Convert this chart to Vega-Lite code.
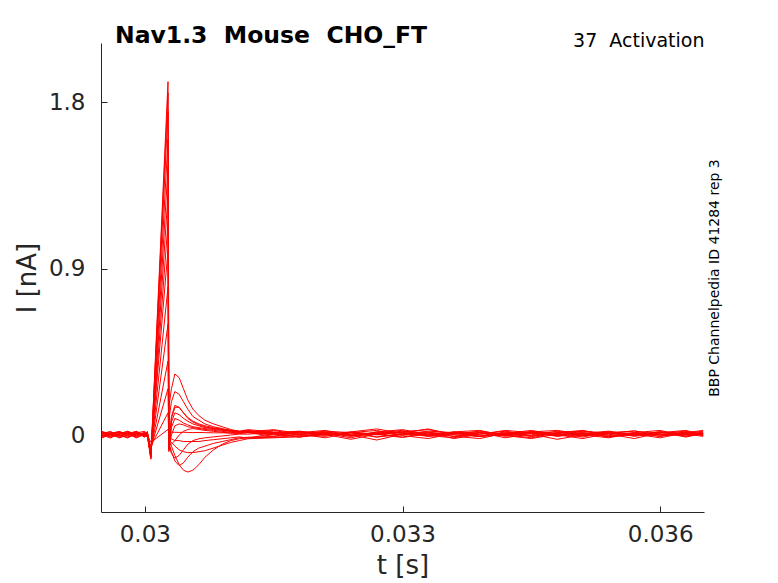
{
  "$schema": "https://vega.github.io/schema/vega-lite/v6.json",
  "width": 603,
  "height": 469,
  "autosize": {"type": "none"},
  "padding": {"left": 101, "top": 43, "right": 74, "bottom": 71},
  "background": "white",
  "title": {
    "text": "Nav1.3 \u00a0Mouse \u00a0CHO_FT",
    "anchor": "start",
    "frame": "group",
    "dx": 14,
    "offset": -16,
    "font": "DejaVu Sans",
    "fontSize": 23.5,
    "fontWeight": "bold",
    "color": "#000000"
  },
  "data": {
    "values": [
      {"k":1,"t":0.0295,"I":0.008},{"k":1,"t":0.0296,"I":-0.012},{"k":1,"t":0.0297,"I":0.004},{"k":1,"t":0.0298,"I":0.016},{"k":1,"t":0.0299,"I":-0.004},{"k":1,"t":0.03,"I":0.008},{"k":1,"t":0.03003,"I":0.0},
      {"k":1,"t":0.03007,"I":-0.04},{"k":1,"t":0.03027,"I":0.03},{"k":1,"t":0.03028,"I":0.015},
      {"k":1,"t":0.03031,"I":0.015},{"k":1,"t":0.03035,"I":0.015},{"k":1,"t":0.0304,"I":0.014},{"k":1,"t":0.03045,"I":0.015},{"k":1,"t":0.0305,"I":0.014},{"k":1,"t":0.03056,"I":0.013},{"k":1,"t":0.03063,"I":0.014},{"k":1,"t":0.0307,"I":0.013},{"k":1,"t":0.0308,"I":0.012},{"k":1,"t":0.0309,"I":0.012},{"k":1,"t":0.031,"I":0.011},{"k":1,"t":0.0311,"I":0.01},
      {"k":1,"t":0.0312,"I":0.013},{"k":1,"t":0.0315,"I":-0.007},{"k":1,"t":0.0318,"I":0.017},{"k":1,"t":0.0321,"I":0.003},{"k":1,"t":0.0324,"I":-0.023},{"k":1,"t":0.0327,"I":0.005},{"k":1,"t":0.033,"I":0.021},{"k":1,"t":0.0333,"I":-0.003},{"k":1,"t":0.0336,"I":-0.015},{"k":1,"t":0.0339,"I":0.013},{"k":1,"t":0.0342,"I":-0.007},{"k":1,"t":0.0345,"I":0.017},{"k":1,"t":0.0348,"I":0.001},{"k":1,"t":0.0351,"I":-0.019},{"k":1,"t":0.0354,"I":0.009},{"k":1,"t":0.0357,"I":0.023},{"k":1,"t":0.036,"I":-0.001},{"k":1,"t":0.0363,"I":0.005},{"k":1,"t":0.0365,"I":-0.007},

      {"k":2,"t":0.0295,"I":-0.008},{"k":2,"t":0.0296,"I":0.012},{"k":2,"t":0.0297,"I":0.0},{"k":2,"t":0.0298,"I":-0.016},{"k":2,"t":0.0299,"I":0.008},{"k":2,"t":0.03,"I":0.0},{"k":2,"t":0.03003,"I":-0.012},
      {"k":2,"t":0.03007,"I":-0.06},{"k":2,"t":0.03027,"I":0.12},{"k":2,"t":0.03028,"I":-0.02},
      {"k":2,"t":0.03031,"I":-0.02},{"k":2,"t":0.03035,"I":-0.03},{"k":2,"t":0.0304,"I":-0.03},{"k":2,"t":0.03045,"I":-0.035},{"k":2,"t":0.0305,"I":-0.035},{"k":2,"t":0.03056,"I":-0.035},{"k":2,"t":0.03063,"I":-0.035},{"k":2,"t":0.0307,"I":-0.03},{"k":2,"t":0.0308,"I":-0.025},{"k":2,"t":0.0309,"I":-0.02},{"k":2,"t":0.031,"I":-0.015},{"k":2,"t":0.0311,"I":-0.01},
      {"k":2,"t":0.0312,"I":-0.017},{"k":2,"t":0.0315,"I":0.009},{"k":2,"t":0.0318,"I":-0.011},{"k":2,"t":0.0321,"I":0.013},{"k":2,"t":0.0324,"I":0.001},{"k":2,"t":0.0327,"I":-0.027},{"k":2,"t":0.033,"I":0.005},{"k":2,"t":0.0333,"I":0.017},{"k":2,"t":0.0336,"I":-0.007},{"k":2,"t":0.0339,"I":-0.019},{"k":2,"t":0.0342,"I":0.011},{"k":2,"t":0.0345,"I":-0.003},{"k":2,"t":0.0348,"I":0.021},{"k":2,"t":0.0351,"I":0.001},{"k":2,"t":0.0354,"I":-0.015},{"k":2,"t":0.0357,"I":0.013},{"k":2,"t":0.036,"I":-0.007},{"k":2,"t":0.0363,"I":0.015},{"k":2,"t":0.0365,"I":0.005},

      {"k":3,"t":0.0295,"I":0.016},{"k":3,"t":0.0296,"I":0.0},{"k":3,"t":0.0297,"I":-0.012},{"k":3,"t":0.0298,"I":0.008},{"k":3,"t":0.0299,"I":0.02},{"k":3,"t":0.03,"I":-0.004},{"k":3,"t":0.03003,"I":0.008},
      {"k":3,"t":0.03007,"I":-0.07},{"k":3,"t":0.03027,"I":0.25},{"k":3,"t":0.03028,"I":-0.03},
      {"k":3,"t":0.03031,"I":-0.04},{"k":3,"t":0.03035,"I":-0.06},{"k":3,"t":0.0304,"I":-0.08},{"k":3,"t":0.03045,"I":-0.09},{"k":3,"t":0.0305,"I":-0.095},{"k":3,"t":0.03056,"I":-0.095},{"k":3,"t":0.03063,"I":-0.09},{"k":3,"t":0.0307,"I":-0.085},{"k":3,"t":0.0308,"I":-0.07},{"k":3,"t":0.0309,"I":-0.055},{"k":3,"t":0.031,"I":-0.04},{"k":3,"t":0.0311,"I":-0.03},
      {"k":3,"t":0.0312,"I":-0.02},{"k":3,"t":0.0315,"I":-0.015},{"k":3,"t":0.0318,"I":-0.01},{"k":3,"t":0.0321,"I":0.001},{"k":3,"t":0.0324,"I":0.013},{"k":3,"t":0.0327,"I":-0.011},{"k":3,"t":0.033,"I":0.009},{"k":3,"t":0.0333,"I":-0.007},{"k":3,"t":0.0336,"I":0.017},{"k":3,"t":0.0339,"I":0.025},{"k":3,"t":0.0342,"I":-0.003},{"k":3,"t":0.0345,"I":-0.019},{"k":3,"t":0.0348,"I":0.005},{"k":3,"t":0.0351,"I":0.013},{"k":3,"t":0.0354,"I":-0.007},{"k":3,"t":0.0357,"I":0.001},{"k":3,"t":0.036,"I":0.017},{"k":3,"t":0.0363,"I":-0.011},{"k":3,"t":0.0365,"I":0.009},

      {"k":4,"t":0.0295,"I":-0.016},{"k":4,"t":0.0296,"I":0.004},{"k":4,"t":0.0297,"I":0.016},{"k":4,"t":0.0298,"I":-0.008},{"k":4,"t":0.0299,"I":0.0},{"k":4,"t":0.03,"I":0.012},{"k":4,"t":0.03003,"I":-0.004},
      {"k":4,"t":0.03007,"I":-0.08},{"k":4,"t":0.03027,"I":0.4},{"k":4,"t":0.03028,"I":-0.03},
      {"k":4,"t":0.03031,"I":-0.06},{"k":4,"t":0.03035,"I":-0.11},{"k":4,"t":0.0304,"I":-0.16},{"k":4,"t":0.03045,"I":-0.19},{"k":4,"t":0.0305,"I":-0.2},{"k":4,"t":0.03056,"I":-0.19},{"k":4,"t":0.03063,"I":-0.16},{"k":4,"t":0.0307,"I":-0.12},{"k":4,"t":0.0308,"I":-0.08},{"k":4,"t":0.0309,"I":-0.05},{"k":4,"t":0.031,"I":-0.03},{"k":4,"t":0.0311,"I":-0.02},
      {"k":4,"t":0.0312,"I":-0.015},{"k":4,"t":0.0315,"I":-0.012},{"k":4,"t":0.0318,"I":-0.003},{"k":4,"t":0.0321,"I":0.009},{"k":4,"t":0.0324,"I":-0.015},{"k":4,"t":0.0327,"I":0.017},{"k":4,"t":0.033,"I":0.001},{"k":4,"t":0.0333,"I":0.013},{"k":4,"t":0.0336,"I":-0.019},{"k":4,"t":0.0339,"I":0.005},{"k":4,"t":0.0342,"I":0.021},{"k":4,"t":0.0345,"I":-0.007},{"k":4,"t":0.0348,"I":0.009},{"k":4,"t":0.0351,"I":-0.011},{"k":4,"t":0.0354,"I":0.017},{"k":4,"t":0.0357,"I":0.005},{"k":4,"t":0.036,"I":-0.015},{"k":4,"t":0.0363,"I":0.013},{"k":4,"t":0.0365,"I":0.001},

      {"k":5,"t":0.0295,"I":0.004},{"k":5,"t":0.0296,"I":0.02},{"k":5,"t":0.0297,"I":-0.008},{"k":5,"t":0.0298,"I":0.012},{"k":5,"t":0.0299,"I":-0.012},{"k":5,"t":0.03,"I":0.004},{"k":5,"t":0.03003,"I":0.016},
      {"k":5,"t":0.03007,"I":-0.09},{"k":5,"t":0.03027,"I":0.6},{"k":5,"t":0.03028,"I":-0.04},
      {"k":5,"t":0.03031,"I":-0.09},{"k":5,"t":0.03035,"I":-0.14},{"k":5,"t":0.0304,"I":-0.165},{"k":5,"t":0.03045,"I":-0.15},{"k":5,"t":0.0305,"I":-0.12},{"k":5,"t":0.03056,"I":-0.09},{"k":5,"t":0.03063,"I":-0.07},{"k":5,"t":0.0307,"I":-0.06},{"k":5,"t":0.0308,"I":-0.045},{"k":5,"t":0.0309,"I":-0.035},{"k":5,"t":0.031,"I":-0.025},{"k":5,"t":0.0311,"I":-0.015},
      {"k":5,"t":0.0312,"I":-0.012},{"k":5,"t":0.0315,"I":-0.007},{"k":5,"t":0.0318,"I":0.005},{"k":5,"t":0.0321,"I":-0.015},{"k":5,"t":0.0324,"I":0.013},{"k":5,"t":0.0327,"I":0.025},{"k":5,"t":0.033,"I":-0.003},{"k":5,"t":0.0333,"I":-0.019},{"k":5,"t":0.0336,"I":0.009},{"k":5,"t":0.0339,"I":-0.007},{"k":5,"t":0.0342,"I":0.013},{"k":5,"t":0.0345,"I":0.005},{"k":5,"t":0.0348,"I":-0.023},{"k":5,"t":0.0351,"I":0.001},{"k":5,"t":0.0354,"I":0.017},{"k":5,"t":0.0357,"I":-0.007},{"k":5,"t":0.036,"I":0.009},{"k":5,"t":0.0363,"I":0.021},{"k":5,"t":0.0365,"I":-0.003},

      {"k":6,"t":0.0295,"I":0.012},{"k":6,"t":0.0296,"I":-0.008},{"k":6,"t":0.0297,"I":0.008},{"k":6,"t":0.0298,"I":0.0},{"k":6,"t":0.0299,"I":0.016},{"k":6,"t":0.03,"I":-0.012},{"k":6,"t":0.03003,"I":0.004},
      {"k":6,"t":0.03007,"I":-0.1},{"k":6,"t":0.03027,"I":0.8},{"k":6,"t":0.03028,"I":-0.05},
      {"k":6,"t":0.03031,"I":-0.1},{"k":6,"t":0.03035,"I":-0.125},{"k":6,"t":0.0304,"I":-0.11},{"k":6,"t":0.03045,"I":-0.08},{"k":6,"t":0.0305,"I":-0.05},{"k":6,"t":0.03056,"I":-0.03},{"k":6,"t":0.03063,"I":-0.02},{"k":6,"t":0.0307,"I":-0.015},{"k":6,"t":0.0308,"I":-0.01},{"k":6,"t":0.0309,"I":-0.005},{"k":6,"t":0.031,"I":0.0},{"k":6,"t":0.0311,"I":0.005},
      {"k":6,"t":0.0312,"I":0.005},{"k":6,"t":0.0315,"I":0.013},{"k":6,"t":0.0318,"I":-0.011},{"k":6,"t":0.0321,"I":0.009},{"k":6,"t":0.0324,"I":-0.007},{"k":6,"t":0.0327,"I":0.017},{"k":6,"t":0.033,"I":0.029},{"k":6,"t":0.0333,"I":0.005},{"k":6,"t":0.0336,"I":-0.007},{"k":6,"t":0.0339,"I":0.013},{"k":6,"t":0.0342,"I":-0.015},{"k":6,"t":0.0345,"I":0.009},{"k":6,"t":0.0348,"I":0.017},{"k":6,"t":0.0351,"I":-0.003},{"k":6,"t":0.0354,"I":0.005},{"k":6,"t":0.0357,"I":-0.019},{"k":6,"t":0.036,"I":0.013},{"k":6,"t":0.0363,"I":0.001},{"k":6,"t":0.0365,"I":0.017},

      {"k":7,"t":0.0295,"I":-0.004},{"k":7,"t":0.0296,"I":0.008},{"k":7,"t":0.0297,"I":0.02},{"k":7,"t":0.0298,"I":0.004},{"k":7,"t":0.0299,"I":-0.008},{"k":7,"t":0.03,"I":0.016},{"k":7,"t":0.03003,"I":0.0},
      {"k":7,"t":0.03007,"I":-0.1},{"k":7,"t":0.03027,"I":1.0},{"k":7,"t":0.03028,"I":-0.06},
      {"k":7,"t":0.03031,"I":-0.05},{"k":7,"t":0.03035,"I":-0.03},{"k":7,"t":0.0304,"I":0.0},{"k":7,"t":0.03045,"I":0.02},{"k":7,"t":0.0305,"I":0.03},{"k":7,"t":0.03056,"I":0.035},{"k":7,"t":0.03063,"I":0.03},{"k":7,"t":0.0307,"I":0.025},{"k":7,"t":0.0308,"I":0.02},{"k":7,"t":0.0309,"I":0.015},{"k":7,"t":0.031,"I":0.01},{"k":7,"t":0.0311,"I":0.01},
      {"k":7,"t":0.0312,"I":0.017},{"k":7,"t":0.0315,"I":0.001},{"k":7,"t":0.0318,"I":0.013},{"k":7,"t":0.0321,"I":0.025},{"k":7,"t":0.0324,"I":-0.003},{"k":7,"t":0.0327,"I":0.009},{"k":7,"t":0.033,"I":-0.011},{"k":7,"t":0.0333,"I":0.013},{"k":7,"t":0.0336,"I":0.005},{"k":7,"t":0.0339,"I":0.021},{"k":7,"t":0.0342,"I":0.001},{"k":7,"t":0.0345,"I":-0.015},{"k":7,"t":0.0348,"I":0.013},{"k":7,"t":0.0351,"I":0.025},{"k":7,"t":0.0354,"I":-0.003},{"k":7,"t":0.0357,"I":0.009},{"k":7,"t":0.036,"I":-0.007},{"k":7,"t":0.0363,"I":0.017},{"k":7,"t":0.0365,"I":0.005},

      {"k":8,"t":0.0295,"I":0.02},{"k":8,"t":0.0296,"I":0.004},{"k":8,"t":0.0297,"I":-0.004},{"k":8,"t":0.0298,"I":0.012},{"k":8,"t":0.0299,"I":0.008},{"k":8,"t":0.03,"I":-0.008},{"k":8,"t":0.03003,"I":0.012},
      {"k":8,"t":0.03007,"I":-0.11},{"k":8,"t":0.03027,"I":1.15},{"k":8,"t":0.03028,"I":-0.07},
      {"k":8,"t":0.03031,"I":0.0},{"k":8,"t":0.03035,"I":0.05},{"k":8,"t":0.0304,"I":0.06},{"k":8,"t":0.03045,"I":0.055},{"k":8,"t":0.0305,"I":0.045},{"k":8,"t":0.03056,"I":0.04},{"k":8,"t":0.03063,"I":0.035},{"k":8,"t":0.0307,"I":0.03},{"k":8,"t":0.0308,"I":0.025},{"k":8,"t":0.0309,"I":0.02},{"k":8,"t":0.031,"I":0.015},{"k":8,"t":0.0311,"I":0.01},
      {"k":8,"t":0.0312,"I":0.013},{"k":8,"t":0.0315,"I":0.025},{"k":8,"t":0.0318,"I":0.001},{"k":8,"t":0.0321,"I":-0.007},{"k":8,"t":0.0324,"I":0.017},{"k":8,"t":0.0327,"I":0.005},{"k":8,"t":0.033,"I":0.013},{"k":8,"t":0.0333,"I":0.033},{"k":8,"t":0.0336,"I":0.001},{"k":8,"t":0.0339,"I":-0.007},{"k":8,"t":0.0342,"I":0.017},{"k":8,"t":0.0345,"I":0.009},{"k":8,"t":0.0348,"I":-0.003},{"k":8,"t":0.0351,"I":0.021},{"k":8,"t":0.0354,"I":0.005},{"k":8,"t":0.0357,"I":0.013},{"k":8,"t":0.036,"I":0.025},{"k":8,"t":0.0363,"I":-0.007},{"k":8,"t":0.0365,"I":0.009},

      {"k":9,"t":0.0295,"I":0.0},{"k":9,"t":0.0296,"I":-0.016},{"k":9,"t":0.0297,"I":0.008},{"k":9,"t":0.0298,"I":0.02},{"k":9,"t":0.0299,"I":0.0},{"k":9,"t":0.03,"I":0.008},{"k":9,"t":0.03003,"I":-0.008},
      {"k":9,"t":0.03007,"I":-0.11},{"k":9,"t":0.03027,"I":1.3},{"k":9,"t":0.03028,"I":-0.08},
      {"k":9,"t":0.03031,"I":0.04},{"k":9,"t":0.03035,"I":0.09},{"k":9,"t":0.0304,"I":0.08},{"k":9,"t":0.03045,"I":0.065},{"k":9,"t":0.0305,"I":0.055},{"k":9,"t":0.03056,"I":0.045},{"k":9,"t":0.03063,"I":0.04},{"k":9,"t":0.0307,"I":0.035},{"k":9,"t":0.0308,"I":0.03},{"k":9,"t":0.0309,"I":0.025},{"k":9,"t":0.031,"I":0.02},{"k":9,"t":0.0311,"I":0.015},
      {"k":9,"t":0.0312,"I":0.021},{"k":9,"t":0.0315,"I":0.005},{"k":9,"t":0.0318,"I":0.017},{"k":9,"t":0.0321,"I":0.001},{"k":9,"t":0.0324,"I":0.013},{"k":9,"t":0.0327,"I":-0.011},{"k":9,"t":0.033,"I":0.005},{"k":9,"t":0.0333,"I":0.021},{"k":9,"t":0.0336,"I":0.013},{"k":9,"t":0.0339,"I":-0.007},{"k":9,"t":0.0342,"I":0.009},{"k":9,"t":0.0345,"I":0.025},{"k":9,"t":0.0348,"I":0.001},{"k":9,"t":0.0351,"I":0.013},{"k":9,"t":0.0354,"I":-0.011},{"k":9,"t":0.0357,"I":0.005},{"k":9,"t":0.036,"I":0.017},{"k":9,"t":0.0363,"I":0.009},{"k":9,"t":0.0365,"I":0.021},

      {"k":10,"t":0.0295,"I":0.012},{"k":10,"t":0.0296,"I":0.016},{"k":10,"t":0.0297,"I":0.0},{"k":10,"t":0.0298,"I":-0.012},{"k":10,"t":0.0299,"I":0.012},{"k":10,"t":0.03,"I":0.02},{"k":10,"t":0.03003,"I":0.004},
      {"k":10,"t":0.03007,"I":-0.12},{"k":10,"t":0.03027,"I":1.45},{"k":10,"t":0.03028,"I":-0.09},
      {"k":10,"t":0.03031,"I":0.07},{"k":10,"t":0.03035,"I":0.12},{"k":10,"t":0.0304,"I":0.11},{"k":10,"t":0.03045,"I":0.09},{"k":10,"t":0.0305,"I":0.075},{"k":10,"t":0.03056,"I":0.06},{"k":10,"t":0.03063,"I":0.05},{"k":10,"t":0.0307,"I":0.04},{"k":10,"t":0.0308,"I":0.035},{"k":10,"t":0.0309,"I":0.03},{"k":10,"t":0.031,"I":0.02},{"k":10,"t":0.0311,"I":0.015},
      {"k":10,"t":0.0312,"I":0.017},{"k":10,"t":0.0315,"I":0.029},{"k":10,"t":0.0318,"I":0.009},{"k":10,"t":0.0321,"I":0.017},{"k":10,"t":0.0324,"I":0.001},{"k":10,"t":0.0327,"I":0.013},{"k":10,"t":0.033,"I":0.025},{"k":10,"t":0.0333,"I":-0.007},{"k":10,"t":0.0336,"I":0.009},{"k":10,"t":0.0339,"I":0.017},{"k":10,"t":0.0342,"I":0.005},{"k":10,"t":0.0345,"I":-0.007},{"k":10,"t":0.0348,"I":0.013},{"k":10,"t":0.0351,"I":0.021},{"k":10,"t":0.0354,"I":0.009},{"k":10,"t":0.0357,"I":-0.003},{"k":10,"t":0.036,"I":0.013},{"k":10,"t":0.0363,"I":0.025},{"k":10,"t":0.0365,"I":0.001},

      {"k":11,"t":0.0295,"I":-0.012},{"k":11,"t":0.0296,"I":0.0},{"k":11,"t":0.0297,"I":0.012},{"k":11,"t":0.0298,"I":0.008},{"k":11,"t":0.0299,"I":-0.016},{"k":11,"t":0.03,"I":0.004},{"k":11,"t":0.03003,"I":0.012},
      {"k":11,"t":0.03007,"I":-0.12},{"k":11,"t":0.03027,"I":1.6},{"k":11,"t":0.03028,"I":-0.08},
      {"k":11,"t":0.03031,"I":0.09},{"k":11,"t":0.03035,"I":0.15},{"k":11,"t":0.0304,"I":0.15},{"k":11,"t":0.03045,"I":0.12},{"k":11,"t":0.0305,"I":0.09},{"k":11,"t":0.03056,"I":0.07},{"k":11,"t":0.03063,"I":0.055},{"k":11,"t":0.0307,"I":0.045},{"k":11,"t":0.0308,"I":0.035},{"k":11,"t":0.0309,"I":0.03},{"k":11,"t":0.031,"I":0.025},{"k":11,"t":0.0311,"I":0.02},
      {"k":11,"t":0.0312,"I":0.025},{"k":11,"t":0.0315,"I":0.013},{"k":11,"t":0.0318,"I":0.021},{"k":11,"t":0.0321,"I":0.005},{"k":11,"t":0.0324,"I":0.017},{"k":11,"t":0.0327,"I":0.033},{"k":11,"t":0.033,"I":0.009},{"k":11,"t":0.0333,"I":0.001},{"k":11,"t":0.0336,"I":0.017},{"k":11,"t":0.0339,"I":0.005},{"k":11,"t":0.0342,"I":0.025},{"k":11,"t":0.0345,"I":0.013},{"k":11,"t":0.0348,"I":-0.007},{"k":11,"t":0.0351,"I":0.009},{"k":11,"t":0.0354,"I":0.021},{"k":11,"t":0.0357,"I":0.001},{"k":11,"t":0.036,"I":0.017},{"k":11,"t":0.0363,"I":0.005},{"k":11,"t":0.0365,"I":0.013},

      {"k":12,"t":0.0295,"I":0.004},{"k":12,"t":0.0296,"I":0.012},{"k":12,"t":0.0297,"I":-0.016},{"k":12,"t":0.0298,"I":0.0},{"k":12,"t":0.0299,"I":0.012},{"k":12,"t":0.03,"I":-0.004},{"k":12,"t":0.03003,"I":0.02},
      {"k":12,"t":0.03007,"I":-0.12},{"k":12,"t":0.03027,"I":1.75},{"k":12,"t":0.03028,"I":-0.05},
      {"k":12,"t":0.03031,"I":0.1},{"k":12,"t":0.03035,"I":0.16},{"k":12,"t":0.0304,"I":0.15},{"k":12,"t":0.03045,"I":0.12},{"k":12,"t":0.0305,"I":0.095},{"k":12,"t":0.03056,"I":0.075},{"k":12,"t":0.03063,"I":0.06},{"k":12,"t":0.0307,"I":0.05},{"k":12,"t":0.0308,"I":0.04},{"k":12,"t":0.0309,"I":0.03},{"k":12,"t":0.031,"I":0.025},{"k":12,"t":0.0311,"I":0.02},
      {"k":12,"t":0.0312,"I":0.029},{"k":12,"t":0.0315,"I":0.017},{"k":12,"t":0.0318,"I":0.005},{"k":12,"t":0.0321,"I":0.021},{"k":12,"t":0.0324,"I":0.013},{"k":12,"t":0.0327,"I":0.001},{"k":12,"t":0.033,"I":0.017},{"k":12,"t":0.0333,"I":0.029},{"k":12,"t":0.0336,"I":0.005},{"k":12,"t":0.0339,"I":0.013},{"k":12,"t":0.0342,"I":-0.003},{"k":12,"t":0.0345,"I":0.017},{"k":12,"t":0.0348,"I":0.025},{"k":12,"t":0.0351,"I":0.005},{"k":12,"t":0.0354,"I":0.013},{"k":12,"t":0.0357,"I":0.021},{"k":12,"t":0.036,"I":0.001},{"k":12,"t":0.0363,"I":0.013},{"k":12,"t":0.0365,"I":0.025},

      {"k":13,"t":0.0295,"I":0.016},{"k":13,"t":0.0296,"I":-0.004},{"k":13,"t":0.0297,"I":0.004},{"k":13,"t":0.0298,"I":0.02},{"k":13,"t":0.0299,"I":0.004},{"k":13,"t":0.03,"I":0.012},{"k":13,"t":0.03003,"I":-0.004},
      {"k":13,"t":0.03007,"I":-0.13},{"k":13,"t":0.03027,"I":1.85},{"k":13,"t":0.03028,"I":0.08},
      {"k":13,"t":0.03031,"I":0.18},{"k":13,"t":0.03035,"I":0.235},{"k":13,"t":0.0304,"I":0.22},{"k":13,"t":0.03045,"I":0.18},{"k":13,"t":0.0305,"I":0.14},{"k":13,"t":0.03056,"I":0.1},{"k":13,"t":0.03063,"I":0.08},{"k":13,"t":0.0307,"I":0.06},{"k":13,"t":0.0308,"I":0.045},{"k":13,"t":0.0309,"I":0.035},{"k":13,"t":0.031,"I":0.025},{"k":13,"t":0.0311,"I":0.02},
      {"k":13,"t":0.0312,"I":0.015},{"k":13,"t":0.0315,"I":0.007},{"k":13,"t":0.0318,"I":0.019},{"k":13,"t":0.0321,"I":-0.001},{"k":13,"t":0.0324,"I":0.011},{"k":13,"t":0.0327,"I":0.003},{"k":13,"t":0.033,"I":-0.013},{"k":13,"t":0.0333,"I":0.007},{"k":13,"t":0.0336,"I":0.015},{"k":13,"t":0.0339,"I":-0.001},{"k":13,"t":0.0342,"I":0.007},{"k":13,"t":0.0345,"I":0.019},{"k":13,"t":0.0348,"I":-0.005},{"k":13,"t":0.0351,"I":0.007},{"k":13,"t":0.0354,"I":-0.009},{"k":13,"t":0.0357,"I":0.011},{"k":13,"t":0.036,"I":0.003},{"k":13,"t":0.0363,"I":-0.005},{"k":13,"t":0.0365,"I":0.007},

      {"k":14,"t":0.0295,"I":-0.008},{"k":14,"t":0.0296,"I":0.008},{"k":14,"t":0.0297,"I":0.016},{"k":14,"t":0.0298,"I":-0.004},{"k":14,"t":0.0299,"I":0.02},{"k":14,"t":0.03,"I":0.0},{"k":14,"t":0.03003,"I":0.008},
      {"k":14,"t":0.03007,"I":-0.13},{"k":14,"t":0.03027,"I":1.91},{"k":14,"t":0.03028,"I":0.15},
      {"k":14,"t":0.03031,"I":0.25},{"k":14,"t":0.03035,"I":0.33},{"k":14,"t":0.0304,"I":0.31},{"k":14,"t":0.03045,"I":0.25},{"k":14,"t":0.0305,"I":0.19},{"k":14,"t":0.03056,"I":0.14},{"k":14,"t":0.03063,"I":0.105},{"k":14,"t":0.0307,"I":0.08},{"k":14,"t":0.0308,"I":0.06},{"k":14,"t":0.0309,"I":0.045},{"k":14,"t":0.031,"I":0.03},{"k":14,"t":0.0311,"I":0.02},
      {"k":14,"t":0.0312,"I":0.019},{"k":14,"t":0.0315,"I":0.011},{"k":14,"t":0.0318,"I":0.003},{"k":14,"t":0.0321,"I":0.015},{"k":14,"t":0.0324,"I":-0.005},{"k":14,"t":0.0327,"I":0.007},{"k":14,"t":0.033,"I":0.015},{"k":14,"t":0.0333,"I":-0.001},{"k":14,"t":0.0336,"I":0.011},{"k":14,"t":0.0339,"I":-0.009},{"k":14,"t":0.0342,"I":0.003},{"k":14,"t":0.0345,"I":0.015},{"k":14,"t":0.0348,"I":0.007},{"k":14,"t":0.0351,"I":-0.005},{"k":14,"t":0.0354,"I":0.011},{"k":14,"t":0.0357,"I":-0.001},{"k":14,"t":0.036,"I":0.015},{"k":14,"t":0.0363,"I":0.007},{"k":14,"t":0.0365,"I":-0.001}
    ]
  },
  "layer": [
    {
      "mark": {"type": "line", "color": "#ff0000", "strokeWidth": 1, "clip": true},
      "encoding": {
        "x": {
          "field": "t",
          "type": "quantitative",
          "scale": {"domain": [0.02949, 0.03651], "nice": false, "zero": false},
          "axis": {"title": "t [s]", "values": [0.03, 0.033, 0.036], "format": ".2~g", "labelPadding": 17, "titlePadding": 6}
        },
        "y": {
          "field": "I",
          "type": "quantitative",
          "scale": {"domain": [-0.416, 2.119], "nice": false, "zero": false},
          "axis": {"title": "I [nA]", "values": [0, 0.9, 1.8], "format": ".2~g", "labelPadding": 22, "titlePadding": 8}
        },
        "detail": {"field": "k", "type": "nominal"}
      }
    },
    {
      "mark": {"type": "line", "opacity": 0},
      "encoding": {
        "x": {
          "field": "t",
          "type": "quantitative",
          "scale": {"domain": [0.02949, 0.03651], "nice": false, "zero": false},
          "axis": {"orient": "top", "title": "37 \u00a0Activation", "titleAnchor": "end", "labels": false, "ticks": false, "domain": false, "titleFontSize": 19, "titleColor": "#000000", "titlePadding": -7}
        },
        "y": {
          "field": "I",
          "type": "quantitative",
          "scale": {"domain": [-0.416, 2.119], "nice": false, "zero": false},
          "axis": {"orient": "right", "title": "BBP Channelpedia ID 41284 rep 3", "labels": false, "ticks": false, "domain": false, "titleAngle": 270, "titleFontSize": 14, "titleColor": "#000000", "titlePadding": 17}
        },
        "detail": {"field": "k", "type": "nominal"}
      }
    }
  ],
  "resolve": {"axis": {"x": "independent", "y": "independent"}},
  "config": {
    "view": {"stroke": null},
    "axis": {
      "grid": false,
      "labelFont": "DejaVu Sans",
      "titleFont": "DejaVu Sans",
      "labelFontSize": 23,
      "labelColor": "#262626",
      "titleColor": "#262626",
      "titleFontSize": 26,
      "titleFontWeight": "normal",
      "domainColor": "#262626",
      "tickColor": "#262626",
      "tickSize": -6
    }
  }
}
